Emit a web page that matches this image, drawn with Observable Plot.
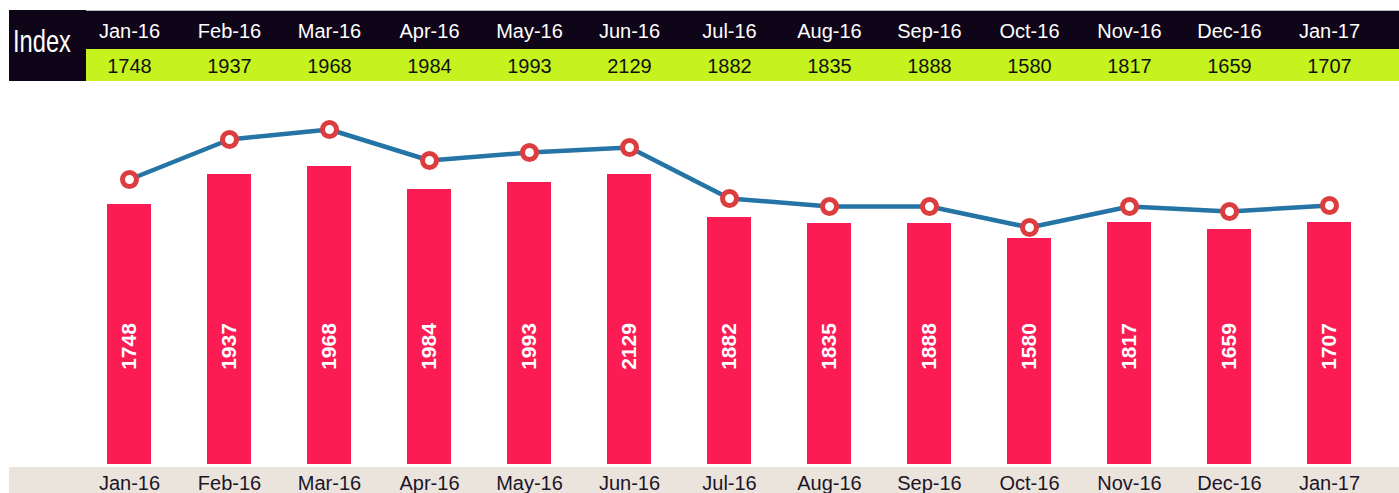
<!DOCTYPE html>
<html>
<head>
<meta charset="utf-8">
<script src="https://cdn.jsdelivr.net/npm/d3@7"></script>
<script src="https://cdn.jsdelivr.net/npm/@observablehq/plot@0.6"></script>
<style>
  body { margin: 0; background: #ffffff; font-family: Arial, "Liberation Sans", sans-serif; }
  #wrap { position: relative; width: 1399px; height: 493px; overflow: hidden; }
  .bg { position: absolute; }
</style>
</head>
<body>
<div id="wrap">
  <div class="bg" style="left:9px;top:10px;width:77px;height:71px;background:#0f0519"></div>
  <div class="bg" style="left:86px;top:10px;width:1313px;height:39px;background:#0f0519;border-top:1px solid #b8b8b8;box-sizing:border-box"></div>
  <div class="bg" style="left:86px;top:49px;width:1313px;height:32px;background:#c6f31f"></div>
  <div class="bg" style="left:9px;top:467px;width:1390px;height:26px;background:#ebe4dd"></div>
  <div id="index" style="position:absolute;left:13px;top:25px;color:#ffffff;font-size:32px;line-height:32px;font-family:Arial,'Liberation Sans',sans-serif;transform:scaleX(0.74);transform-origin:0 0;white-space:nowrap;">Index</div>
  <div id="table" style="position:absolute;left:0;top:0"></div>
  <div id="chart" style="position:absolute;left:0;top:81px"></div>
</div>
<script>
// ---- data ----
const months = ["Jan-16","Feb-16","Mar-16","Apr-16","May-16","Jun-16","Jul-16","Aug-16","Sep-16","Oct-16","Nov-16","Dec-16","Jan-17"];
const indexValues = [1748,1937,1968,1984,1993,2129,1882,1835,1888,1580,1817,1659,1707];
const barValues = [260,290,298,275,282,290,247,241,241,226,242,235,242];
const lineValues = [285,325,335,304,312,317,266,258,258,237,258,253,259];

const rows = months.map((m, i) => ({month: m, index: indexValues[i], bar: barValues[i], line: lineValues[i]}));

const xScale = {domain: months, paddingInner: 0.56, paddingOuter: 0.3};
const W = 1399, ML = 76, MR = 18;

// ---- top table ----
const table = Plot.plot({
  width: W, height: 81,
  marginLeft: ML, marginRight: MR, marginTop: 0, marginBottom: 0,
  x: {...xScale, axis: null},
  y: {type: "point", domain: ["month", "index"], range: [31, 66.5], padding: 0, axis: null},
  style: {background: "transparent", fontFamily: "Arial, 'Liberation Sans', sans-serif", fontSize: "20px", overflow: "visible"},
  marks: [
    Plot.text(rows, {x: "month", y: () => "month", text: "month", fill: "#ffffff", lineAnchor: "middle"}),
    Plot.text(rows, {x: "month", y: () => "index", text: d => String(d.index), fill: "#111111", lineAnchor: "middle"})
  ]
});
document.getElementById("table").appendChild(table);

// ---- main chart ----
const chart = Plot.plot({
  width: W, height: 412,
  marginLeft: ML, marginRight: MR, marginTop: 0, marginBottom: 29,
  x: {...xScale, label: null, tickSize: 0, tickPadding: 11},
  y: {domain: [0, 383], axis: null},
  style: {background: "transparent", fontFamily: "Arial, 'Liberation Sans', sans-serif", fontSize: "20px", color: "#1b1528", overflow: "visible"},
  marks: [
    Plot.barY(rows, {x: "month", y: "bar", fill: "#fb1c53"}),
    Plot.text(rows, {x: "month", y: 0, dy: -118, text: d => String(d.index), rotate: -90, fill: "#ffffff", fontWeight: "bold", fontSize: 21, lineAnchor: "middle", textAnchor: "middle"}),
    Plot.line(rows, {x: "month", y: "line", stroke: "#2474a5", strokeWidth: 4.5}),
    Plot.dot(rows, {x: "month", y: "line", r: 7, fill: "#ffffff", stroke: "#dc3d3f", strokeWidth: 5})
  ]
});
document.getElementById("chart").appendChild(chart);
</script>
</body>
</html>
